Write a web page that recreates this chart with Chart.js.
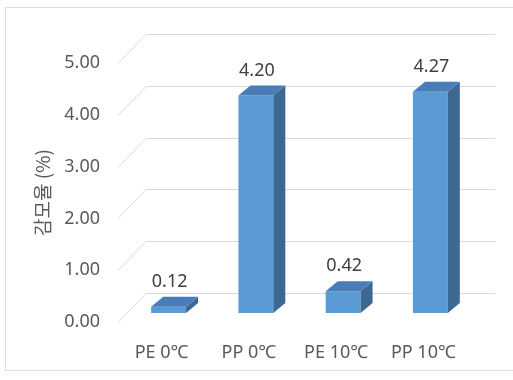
<!DOCTYPE html>
<html>
<head>
<meta charset="utf-8">
<script src="https://cdn.jsdelivr.net/npm/chart.js@4/dist/chart.umd.min.js"></script>
<style>
  html, body { margin: 0; padding: 0; background: #ffffff; }
  #wrap { position: relative; width: 513px; height: 380px; }
  canvas { position: absolute; left: 0; top: 0; }
</style>
</head>
<body>
<div id="wrap"><canvas id="c" width="513" height="380"></canvas></div>
<script>
// ---- data ----
const categories = ['PE 0\u2103', 'PP 0\u2103', 'PE 10\u2103', 'PP 10\u2103'];
const lossRate = [0.12, 4.20, 0.42, 4.27];
const yTickValues = [0, 1, 2, 3, 4, 5];
const yAxisTitle = '감모율 (%)';

// ---- 3D style constants ----
const WALL_DX = 28, WALL_DY = -29;   // back wall offset
const BAR_SHIFT_X = 7, BAR_SHIFT_Y = -9; // bars sit mid-depth
const BAR_DX = 12, BAR_DY = -10;     // bar depth
const FRONT = '#5B9BD5', SIDE = '#3C6894', TOP = '#4A7DB8';
const GRID = '#d9d9d9';
const TEXT = '#595959';
const FONT = '"Noto Sans", "Noto Sans CJK KR", sans-serif';

const threeD = {
  id: 'threeD',
  beforeDraw(chart) {
    const ctx = chart.ctx;
    ctx.save();
    ctx.fillStyle = '#fff';
    ctx.fillRect(0, 0, chart.width, chart.height);
    ctx.strokeStyle = '#dcdcdc';
    ctx.lineWidth = 1;
    ctx.strokeRect(5.5, 7.5, 520, 363);
    const ca = chart.chartArea;
    const ys = chart.scales.y;
    ctx.strokeStyle = GRID;
    ctx.lineWidth = 1;
    yTickValues.forEach(v => {
      const y = Math.round(ys.getPixelForValue(v)) + 0.5;
      ctx.beginPath();
      ctx.moveTo(ca.left, y);
      ctx.lineTo(ca.left + WALL_DX, y + WALL_DY);
      ctx.lineTo(ca.right + WALL_DX, y + WALL_DY);
      ctx.stroke();
    });
    ctx.restore();
  },
  beforeDatasetsDraw(chart) {
    chart.ctx.save();
    chart.ctx.translate(BAR_SHIFT_X, BAR_SHIFT_Y);
  },
  afterDatasetsDraw(chart) {
    const ctx = chart.ctx;
    const meta = chart.getDatasetMeta(0);
    meta.data.forEach((bar, i) => {
      const p = bar.getProps(['x', 'y', 'base', 'width'], true);
      const l = p.x - p.width / 2, r = p.x + p.width / 2;
      const top = p.y, base = p.base;
      // side face
      ctx.fillStyle = SIDE;
      ctx.beginPath();
      ctx.moveTo(r, top);
      ctx.lineTo(r + BAR_DX, top + BAR_DY);
      ctx.lineTo(r + BAR_DX, base + BAR_DY);
      ctx.lineTo(r, base);
      ctx.closePath();
      ctx.fill();
      // top face
      ctx.fillStyle = TOP;
      ctx.beginPath();
      ctx.moveTo(l, top);
      ctx.lineTo(l + BAR_DX, top + BAR_DY);
      ctx.lineTo(r + BAR_DX, top + BAR_DY);
      ctx.lineTo(r, top);
      ctx.closePath();
      ctx.fill();
      // value label
      ctx.fillStyle = '#404040';
      ctx.font = '18px ' + FONT;
      ctx.textAlign = 'center';
      ctx.textBaseline = 'middle';
      ctx.fillText(lossRate[i].toFixed(2), p.x + 1, top + BAR_DY - 15);
    });
    ctx.restore();
  }
};

new Chart(document.getElementById('c'), {
  type: 'bar',
  data: {
    labels: categories,
    datasets: [{
      data: lossRate,
      backgroundColor: FRONT,
      borderWidth: 0,
      barPercentage: 0.4,
      categoryPercentage: 1.0
    }]
  },
  options: {
    responsive: false,
    animation: false,
    events: [],
    layout: { padding: { left: 0, right: 46, top: 63, bottom: 8 } },
    plugins: { legend: { display: false }, tooltip: { enabled: false } },
    scales: {
      x: {
        grid: { display: false, drawTicks: false },
        border: { display: false },
        ticks: { color: TEXT, font: { family: FONT, size: 18 }, padding: 20, maxRotation: 0 },
        afterFit(s) { s.height = 50; }
      },
      y: {
        min: 0, max: 5,
        afterBuildTicks(s) { s.ticks = yTickValues.map(v => ({ value: v })); },
        grid: { display: false, drawTicks: false },
        border: { display: false },
        ticks: { color: TEXT, font: { family: FONT, size: 18 }, padding: 18,
                 callback: v => Number(v).toFixed(2) },
        title: { display: true, text: yAxisTitle, color: TEXT,
                 font: { family: '"Noto Sans CJK KR", sans-serif', size: 19 },
                 padding: { top: 31, bottom: 0 } },
        afterFit(s) { s.width = 118; }
      }
    }
  },
  plugins: [threeD]
});
</script>
</body>
</html>
